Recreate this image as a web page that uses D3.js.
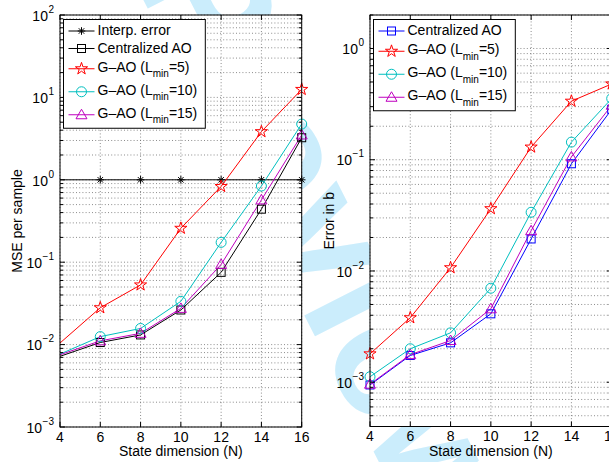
<!DOCTYPE html>
<html>
<head>
<meta charset="utf-8">
<script src="https://cdn.jsdelivr.net/npm/d3@7"></script>
<style>
  body { margin: 0; background: #fff; }
  svg { display: block; font-family: "Liberation Sans", Arial, Helvetica, sans-serif; }
</style>
</head>
<body>
<svg id="chart" width="609" height="462"></svg>
<script>
// ---- data: left panel (MSE per sample vs. state dimension) ----
const leftN = [2, 6, 8, 10, 12, 14, 16];
const interpError = [1, 1, 1, 1, 1, 1, 1];
const mseCentralized = [0.0049, 0.0106, 0.0131, 0.0263, 0.0753, 0.44, 3.24];
const mseLmin5 = [0.0039, 0.028, 0.053, 0.258, 0.83, 3.84, 12.5];
const mseLmin10 = [0.0047, 0.0125, 0.0157, 0.0335, 0.174, 0.84, 4.75];
const mseLmin15 = [0.0051, 0.0111, 0.0137, 0.0275, 0.094, 0.57, 3.5];

// ---- data: right panel (error in b vs. state dimension) ----
const rightN = [4, 6, 8, 10, 12, 14, 16];
const errCentralized = [9.45e-4, 1.74e-3, 2.26e-3, 4.12e-3, 0.0194, 0.092, 0.284];
const errLmin5 = [1.8e-3, 3.8e-3, 0.0107, 0.0363, 0.13, 0.336, 0.48];
const errLmin10 = [1.12e-3, 2.0e-3, 2.78e-3, 7.0e-3, 0.0337, 0.144, 0.355];
const errLmin15 = [9.6e-4, 1.77e-3, 2.37e-3, 4.57e-3, 0.023, 0.106, 0.309];

// ---- axis ticks and labels ----
const xTicks = [4, 6, 8, 10, 12, 14, 16];
const xDomain = [4, 16];
const leftYDomain = [1e-3, 1e2];
const rightYDomain = [4e-4, 2];
const xTitle = "State dimension (N)";
const leftYTitle = "MSE per sample";
const rightYTitle = "Error in b";
const watermarkText = "Preview";

const svg = d3.select("#chart");
svg.append("rect").attr("width", 609).attr("height", 462).attr("fill", "#fff");

// faint watermark behind the axes
svg.append("text")
  .attr("transform", "translate(330,236) rotate(63)")
  .attr("text-anchor", "middle")
  .attr("dominant-baseline", "central")
  .attr("font-size", 170)
  .attr("font-weight", "bold")
  .attr("fill", "#cbedfc")
  .text(watermarkText);

const styles = {
  interp:  { color: "#000000", marker: "asterisk" },
  central: { color: "#000000", marker: "square" },
  central2:{ color: "#0000ff", marker: "square" },
  l5:      { color: "#ff0000", marker: "star" },
  l10:     { color: "#00bfbf", marker: "circle" },
  l15:     { color: "#bf00bf", marker: "triangle" }
};

function drawMarker(g, type, cx, cy, color) {
  const common = (sel) => sel.attr("fill", "none").attr("stroke", color).attr("stroke-width", 1);
  if (type === "circle") {
    common(g.append("circle").attr("cx", cx).attr("cy", cy).attr("r", 5));
  } else if (type === "square") {
    common(g.append("rect").attr("x", cx - 4).attr("y", cy - 4).attr("width", 8).attr("height", 8));
  } else if (type === "triangle") {
    common(g.append("path").attr("d", `M${cx},${cy - 5.5}L${cx + 5.5},${cy + 4}L${cx - 5.5},${cy + 4}Z`));
  } else if (type === "star") {
    common(g.append("path")
      .attr("transform", `translate(${cx},${cy})`)
      .attr("d", d3.symbol(d3.symbolStar, 46)()));
  } else if (type === "asterisk") {
    const r = 3.8, d = r * 0.72;
    common(g.append("path")
      .attr("d", `M${cx - r},${cy}H${cx + r}M${cx},${cy - r}V${cy + r}` +
                 `M${cx - d},${cy - d}L${cx + d},${cy + d}M${cx - d},${cy + d}L${cx + d},${cy - d}`));
  }
}

function legendLabel(text, label) {
  // label: {main, sub, tail}
  if (label.sub) {
    text.append("tspan").text(label.main);
    text.append("tspan").attr("font-size", 10).attr("dy", 5.5).text(label.sub);
    text.append("tspan").attr("dy", -5.5).text(label.tail);
  } else {
    text.text(label.main);
  }
}

function drawPanel(cfg) {
  const x = d3.scaleLinear().domain(xDomain).range([cfg.x0, cfg.x1]);
  const y = d3.scaleLog().domain(cfg.yDomain).range([cfg.y1, cfg.y0]);
  const g = svg.append("g");
  const clipId = "clip" + cfg.id;

  g.append("clipPath").attr("id", clipId).append("rect")
    .attr("x", cfg.x0).attr("y", cfg.y0).attr("width", cfg.x1 - cfg.x0).attr("height", cfg.y1 - cfg.y0);

  g.append("rect").attr("x", cfg.x0).attr("y", cfg.y0)
    .attr("width", cfg.x1 - cfg.x0).attr("height", cfg.y1 - cfg.y0).attr("fill", "#fff");

  const yTicksAll = y.ticks();
  const isMajor = (v) => Math.abs(Math.log10(v) - Math.round(Math.log10(v))) < 1e-9;
  const yMajor = yTicksAll.filter(isMajor);
  const yMinor = yTicksAll.filter(v => !isMajor(v));

  // dotted grid
  const grid = g.append("g").attr("stroke", "#6e6e6e").attr("stroke-width", 0.8)
    .attr("stroke-dasharray", "1,2.2").attr("fill", "none");
  xTicks.forEach(t => grid.append("line").attr("x1", x(t)).attr("x2", x(t)).attr("y1", cfg.y0).attr("y2", cfg.y1));
  yTicksAll.forEach(t => grid.append("line").attr("x1", cfg.x0).attr("x2", cfg.x1).attr("y1", y(t)).attr("y2", y(t)));

  // series
  const line = d3.line().x(d => x(d[0])).y(d => y(d[1]));
  cfg.series.forEach(s => {
    const pts = cfg.n.map((n, i) => [n, s.values[i]]);
    g.append("path").attr("clip-path", `url(#${clipId})`)
      .attr("d", line(pts)).attr("fill", "none").attr("stroke", s.style.color).attr("stroke-width", 1);
  });
  cfg.series.forEach(s => {
    const mg = g.append("g");
    cfg.n.forEach((n, i) => {
      if (n < xDomain[0] || n > xDomain[1]) return;
      drawMarker(mg, s.style.marker, x(n), y(s.values[i]), s.style.color);
    });
  });

  // axes box and ticks (MATLAB style, inward on all sides)
  const ax = g.append("g").attr("stroke", "#000").attr("stroke-width", 1).attr("fill", "none");
  ax.append("rect").attr("x", cfg.x0).attr("y", cfg.y0)
    .attr("width", cfg.x1 - cfg.x0).attr("height", cfg.y1 - cfg.y0);
  xTicks.forEach(t => {
    ax.append("line").attr("x1", x(t)).attr("x2", x(t)).attr("y1", cfg.y1).attr("y2", cfg.y1 - 5);
    ax.append("line").attr("x1", x(t)).attr("x2", x(t)).attr("y1", cfg.y0).attr("y2", cfg.y0 + 5);
  });
  yMajor.forEach(t => {
    ax.append("line").attr("x1", cfg.x0).attr("x2", cfg.x0 + 5).attr("y1", y(t)).attr("y2", y(t));
    ax.append("line").attr("x1", cfg.x1).attr("x2", cfg.x1 - 5).attr("y1", y(t)).attr("y2", y(t));
  });
  yMinor.forEach(t => {
    ax.append("line").attr("x1", cfg.x0).attr("x2", cfg.x0 + 3).attr("y1", y(t)).attr("y2", y(t));
    ax.append("line").attr("x1", cfg.x1).attr("x2", cfg.x1 - 3).attr("y1", y(t)).attr("y2", y(t));
  });

  // tick labels
  const lab = svg.append("g").attr("fill", "#000").attr("font-size", 14);
  xTicks.forEach(t => lab.append("text").attr("x", x(t)).attr("y", cfg.y1 + 14.7)
    .attr("text-anchor", "middle").text(t));
  yMajor.forEach(t => {
    const e = Math.round(Math.log10(t));
    const tx = lab.append("text").attr("x", cfg.x0 - 6).attr("y", y(t) + 5.7).attr("text-anchor", "end");
    tx.append("tspan").text("10");
    tx.append("tspan").attr("font-size", 10).attr("dy", -8).attr("dx", 0.5)
      .text(e < 0 ? "\u2212" + (-e) : String(e));
  });

  // axis titles
  lab.append("text").attr("x", (cfg.x0 + cfg.x1) / 2).attr("y", 456)
    .attr("text-anchor", "middle").text(xTitle);
  lab.append("text").attr("transform", `translate(${cfg.yTitleX},${(cfg.y0 + cfg.y1) / 2}) rotate(-90)`)
    .attr("text-anchor", "middle").text(cfg.yTitle);

  // legend
  const lg = svg.append("g").attr("font-size", 14);
  const bx = cfg.x0 + 3.5, by = cfg.y0 + 4.5;
  const box = lg.append("rect").attr("x", bx).attr("y", by).attr("fill", "#fff")
    .attr("stroke", "#000").attr("stroke-width", 1);
  let cy = by + 11.5, prevH = null, maxEnd = 0;
  cfg.series.forEach(s => {
    const h = s.label.sub ? 23 : 17.5;
    if (prevH !== null) cy += prevH / 2 + h / 2;
    prevH = h;
    lg.append("line").attr("x1", bx + 5).attr("x2", bx + 31).attr("y1", cy).attr("y2", cy)
      .attr("stroke", s.style.color).attr("stroke-width", 1);
    drawMarker(lg, s.style.marker, bx + 18, cy, s.style.color);
    const t = lg.append("text").attr("x", bx + 34).attr("y", cy + (s.label.sub ? 3 : 4.4)).attr("fill", "#000");
    legendLabel(t, s.label);
    maxEnd = Math.max(maxEnd, bx + 34 + t.node().getComputedTextLength());
  });
  box.attr("width", maxEnd + 8 - bx).attr("height", cy + 13.5 - by);
}

const lbl = {
  interp: { main: "Interp. error" },
  central: { main: "Centralized AO" },
  l5: { main: "G\u2013AO (L", sub: "min", tail: "=5)" },
  l10: { main: "G\u2013AO (L", sub: "min", tail: "=10)" },
  l15: { main: "G\u2013AO (L", sub: "min", tail: "=15)" }
};

drawPanel({
  id: "L", x0: 60, x1: 301.7, y0: 15, y1: 427, yDomain: leftYDomain,
  yTitle: leftYTitle, yTitleX: 21.5, n: leftN,
  series: [
    { values: interpError, style: styles.interp, label: lbl.interp },
    { values: mseCentralized, style: styles.central, label: lbl.central },
    { values: mseLmin5, style: styles.l5, label: lbl.l5 },
    { values: mseLmin10, style: styles.l10, label: lbl.l10 },
    { values: mseLmin15, style: styles.l15, label: lbl.l15 }
  ]
});

drawPanel({
  id: "R", x0: 370, x1: 611.7, y0: 15, y1: 426.5, yDomain: rightYDomain,
  yTitle: rightYTitle, yTitleX: 334, n: rightN,
  series: [
    { values: errCentralized, style: styles.central2, label: lbl.central },
    { values: errLmin5, style: styles.l5, label: lbl.l5 },
    { values: errLmin10, style: styles.l10, label: lbl.l10 },
    { values: errLmin15, style: styles.l15, label: lbl.l15 }
  ]
});
</script>
</body>
</html>
